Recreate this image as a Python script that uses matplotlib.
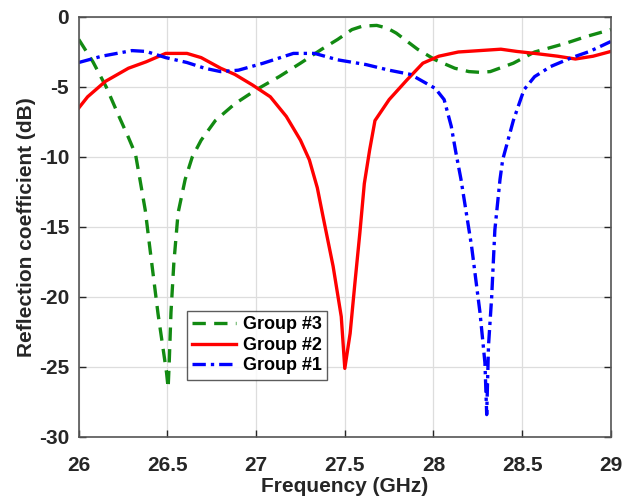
import matplotlib.pyplot as plt

# Group #3 (green dashed)
f3 = [26.0, 26.08, 26.155, 26.227, 26.28, 26.32, 26.345, 26.375, 26.40, 26.447,
      26.495, 26.504, 26.51, 26.52, 26.536, 26.56, 26.6, 26.64, 26.69, 26.77,
      26.88, 27.0, 27.13, 27.25, 27.37, 27.46, 27.54, 27.6, 27.68, 27.74,
      27.79, 27.91, 28.01, 28.12, 28.2, 28.26, 28.32, 28.45, 28.57, 28.74,
      28.86, 29.0]
s3 = [-1.6, -3.2, -5.0, -7.1, -8.6, -9.8, -11.6, -13.8, -16.4, -21.2,
      -25.4, -26.5, -24.7, -21.1, -17.6, -14.0, -11.6, -10.0, -8.8, -7.4,
      -6.2, -5.2, -4.26, -3.3, -2.3, -1.6, -0.9, -0.65, -0.6, -0.8,
      -1.15, -2.3, -3.06, -3.66, -3.9, -3.95, -3.9, -3.3, -2.5, -1.9,
      -1.4, -0.9]

# Group #2 (red solid)
f2 = [26.0, 26.05, 26.15, 26.28, 26.38, 26.49, 26.61, 26.69, 26.8, 26.88,
      26.98, 27.08, 27.17, 27.25, 27.3, 27.345, 27.378, 27.434, 27.48, 27.5,
      27.53, 27.557, 27.585, 27.61, 27.64, 27.67, 27.75, 27.85, 27.94, 28.03,
      28.14, 28.26, 28.38, 28.47, 28.57, 28.7, 28.8, 28.9, 29.0]
s2 = [-6.5, -5.7, -4.6, -3.66, -3.2, -2.6, -2.6, -2.9, -3.66, -4.1,
      -4.86, -5.7, -7.1, -8.8, -10.2, -12.2, -14.3, -17.8, -21.4, -25.1,
      -22.6, -19.0, -15.4, -11.9, -9.5, -7.4, -5.9, -4.5, -3.3, -2.8,
      -2.5, -2.4, -2.3, -2.46, -2.6, -2.8, -3.0, -2.8, -2.46]

# Group #1 (blue dash-dot)
f1 = [26.0, 26.13, 26.3, 26.38, 26.49, 26.61, 26.71, 26.8, 26.9, 27.04,
      27.21, 27.33, 27.46, 27.62, 27.75, 27.87, 28.01, 28.06, 28.1, 28.125,
      28.155, 28.215, 28.262, 28.29, 28.30, 28.31, 28.328, 28.346, 28.375, 28.39,
      28.45, 28.51, 28.57, 28.66, 28.78, 28.88, 29.0]
s1 = [-3.25, -2.8, -2.4, -2.46, -2.9, -3.25, -3.66, -3.9, -3.8, -3.3,
      -2.6, -2.6, -3.06, -3.4, -3.8, -4.1, -5.1, -5.9, -7.8, -9.6,
      -11.6, -16.4, -21.1, -24.7, -28.4, -23.5, -20.0, -15.2, -11.6, -10.2,
      -7.4, -5.2, -4.26, -3.54, -2.9, -2.46, -1.75]

xticks = [26, 26.5, 27, 27.5, 28, 28.5, 29]
xticklabels = ["26", "26.5", "27", "27.5", "28", "28.5", "29"]
yticks = [0, -5, -10, -15, -20, -25, -30]

plt.rcParams["font.family"] = ["Liberation Sans", "DejaVu Sans"]
plt.rcParams["font.weight"] = "bold"
plt.rcParams["axes.unicode_minus"] = False

fig = plt.figure(figsize=(6.35, 5.0), dpi=100)
ax = fig.add_axes([0.124, 0.126, 0.838, 0.84])

ax.plot(f3, s3, color="#128a12", linestyle=(0, (4, 2.5)), linewidth=2.4, label="Group #3")
ax.plot(f2, s2, color="#ff0000", linestyle="-", linewidth=2.4, label="Group #2")
ax.plot(f1, s1, color="#0000ff", linestyle=(0, (4, 1.5, 1, 1.5)), linewidth=2.4, label="Group #1")

ax.set_xlim(26, 29)
ax.set_ylim(-30, 0)
ax.set_xticks(xticks)
ax.set_xticklabels(xticklabels)
ax.set_yticks(yticks)
ax.grid(True, color="#dddddd", linewidth=0.9)
ax.set_axisbelow(True)
ax.tick_params(direction="in", length=5, width=1, colors="#262626",
               labelsize=15, top=False, right=True)
ax.tick_params(axis="x", pad=14)
ax.tick_params(axis="y", pad=7)
for lab in ax.get_xticklabels() + ax.get_yticklabels():
    lab.set_fontweight("bold")
    lab.set_color("#262626")
for sp in ax.spines.values():
    sp.set_color("#555555")
    sp.set_linewidth(1.2)

ax.set_xlabel("Frequency (GHz)", fontsize=15, fontweight="bold", color="#262626", labelpad=1)
ax.set_ylabel("Reflection coefficient (dB)", fontsize=15, fontweight="bold", color="#262626", labelpad=2)

leg = ax.legend(loc="lower left", bbox_to_anchor=(0.203, 0.136), fontsize=13,
                frameon=True, fancybox=False, handlelength=2.4, handletextpad=0.4,
                labelspacing=0.2, borderpad=0.3, borderaxespad=0)
leg.get_frame().set_edgecolor("#333333")
leg.get_frame().set_linewidth(1.0)
for t in leg.get_texts():
    t.set_fontweight("bold")

fig.savefig("out.png", dpi=100)
